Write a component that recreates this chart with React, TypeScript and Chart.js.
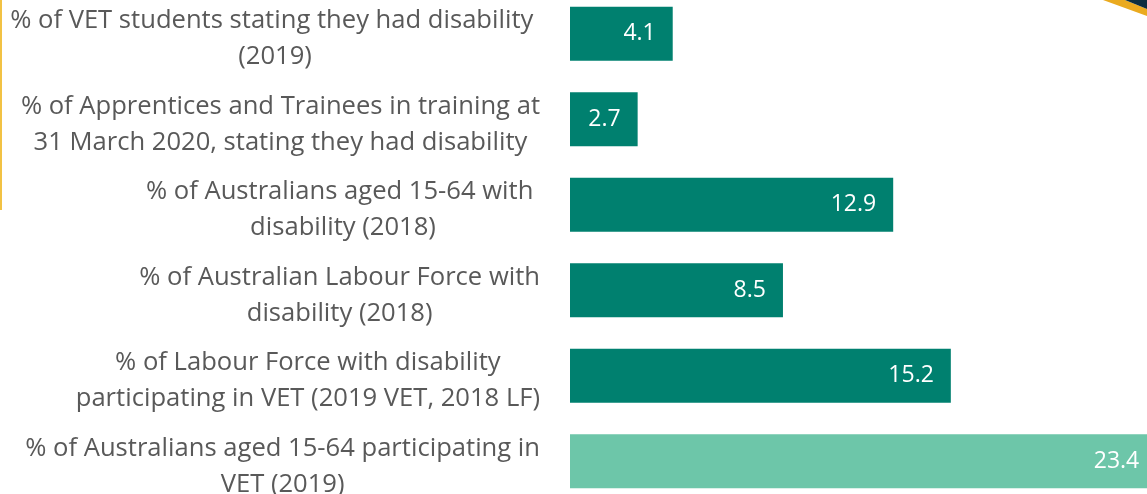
import React, { useEffect, useRef } from "react";
import { Chart, registerables } from "chart.js";

Chart.register(...registerables);

const categoryLines: string[][] = [
  ["% of VET students stating they had disability ", "(2019)"],
  ["% of Apprentices and Trainees in training at", "31 March 2020, stating they had disability"],
  ["% of Australians aged 15-64 with ", "disability (2018)"],
  ["% of Australian Labour Force with", "disability (2018)"],
  ["% of Labour Force with disability", "participating in VET (2019 VET, 2018 LF)"],
  ["% of Australians aged 15-64 participating in", "VET (2019)"],
];
const values: number[] = [4.1, 2.7, 12.9, 8.5, 15.2, 23.4];
const barColors: string[] = ["#00806F", "#00806F", "#00806F", "#00806F", "#00806F", "#6DC6A9"];

const LABEL_FONT = '25.6px "Open Sans"';
const VALUE_FONT = '23px "Open Sans"';

export default function App() {
  const ref = useRef<HTMLCanvasElement | null>(null);
  useEffect(() => {
    if (!ref.current) return;
    const labelPlugin = {
      id: "catLabels",
      afterDraw(chart: any) {
        const ctx = chart.ctx;
        const ys = chart.scales.y;
        ctx.save();
        ctx.font = LABEL_FONT;
        ctx.fillStyle = "#595959";
        ctx.textAlign = "center";
        ctx.textBaseline = "middle";
        const rightEdge = chart.chartArea.left - 30;
        const lh = 36;
        categoryLines.forEach((lines, i) => {
          const yc = ys.getPixelForValue(i) + 5;
          const w = Math.max(...lines.map((l) => ctx.measureText(l).width));
          const cx = rightEdge - w / 2;
          lines.forEach((l, j) => {
            const y = yc + (j - (lines.length - 1) / 2) * lh;
            ctx.fillText(l, cx, y);
          });
        });
        // value labels
        const meta = chart.getDatasetMeta(0);
        ctx.font = VALUE_FONT;
        ctx.fillStyle = "#FFFFFF";
        ctx.textAlign = "right";
        meta.data.forEach((el: any, i: number) => {
          ctx.fillText(String(values[i].toFixed(1)), el.x - 17, el.y);
        });
        ctx.restore();
      },
    };
    const chart = new Chart(ref.current, {
      type: "bar",
      data: {
        labels: categoryLines.map((l) => l.join(" ")),
        datasets: [
          {
            data: values,
            backgroundColor: barColors,
            borderWidth: 0,
            categoryPercentage: 1,
            barPercentage: 0.63,
          },
        ],
      },
      options: {
        indexAxis: "y",
        animation: false,
        responsive: true,
        maintainAspectRatio: false,
        layout: { padding: { left: 570, right: 0, top: 0, bottom: 0 } },
        plugins: { legend: { display: false }, tooltip: { enabled: false } },
        scales: {
          x: { display: false, min: 0, max: 23.03 },
          y: { display: false },
        },
      },
      plugins: [labelPlugin],
    });
    return () => chart.destroy();
  }, []);
  return (
    <div style={{ position: "fixed", left: 0, top: 0, width: 1147, height: 494, overflow: "hidden", background: "#fff" }}>
      <div style={{ position: "absolute", left: 0, top: -9, width: 1147, height: 513 }}>
        <canvas ref={ref} />
      </div>
      <div style={{ position: "absolute", left: 0, top: 0, width: 2, height: 210, background: "#F2C244" }} />
      <div
        style={{
          position: "absolute",
          left: 1100,
          top: 0,
          width: 47,
          height: 18,
          background: "#EAAA1F",
          clipPath: "polygon(3px 0, 25px 0, 47px 9px, 47px 16px)",
        }}
      />
      <div
        style={{
          position: "absolute",
          left: 1100,
          top: 0,
          width: 47,
          height: 18,
          background: "#0B2E40",
          clipPath: "polygon(25px 0, 47px 0, 47px 9px)",
        }}
      />
    </div>
  );
}
